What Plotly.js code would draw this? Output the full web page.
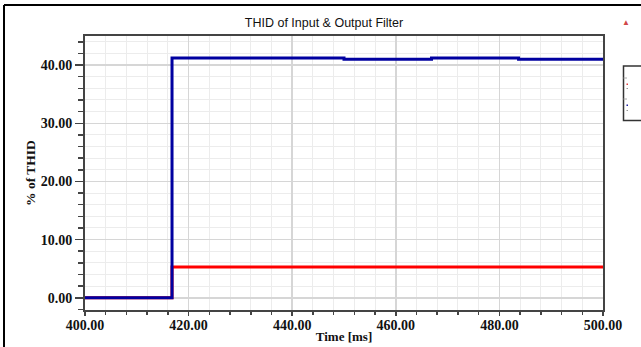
<!DOCTYPE html>
<html>
<head>
<meta charset="utf-8">
<script src="https://cdn.plot.ly/plotly-3.0.1.min.js"></script>
<style>html,body{margin:0;padding:0;background:#fff;}#chart{width:641px;height:347px;}</style>
</head>
<body>
<div id="chart"></div>
<script>
// Data
const inputTime = [400, 416.8, 450.0, 466.9, 483.7, 500];
const inputTHID = [0, 41.2, 41.0, 41.2, 41.0, 41.0];
const outputTime = [400, 416.8, 500];
const outputTHID = [0, 5.3, 5.3];
const chartTitle = "THID of Input & Output Filter";
const xTitle = "Time [ms]";
const yTitle = "% of THID";

const W = 641, H = 347;
const M = {l: 85, r: 38, t: 36, b: 37};
const pw = W - M.l - M.r, ph = H - M.t - M.b;
const px = x => (x - M.l) / pw;
const py = y => (H - M.b - y) / ph;

const serif = "Liberation Serif, Times New Roman, serif";
const tickFont = {family: serif, size: 14, color: "#111", weight: "bold"};

const traces = [
  {x: outputTime, y: outputTHID, type: "scatter", mode: "lines", line: {color: "#ff0000", width: 3, shape: "hv"}, name: "Output"},
  {x: inputTime, y: inputTHID, type: "scatter", mode: "lines", line: {color: "#0000a0", width: 3, shape: "hv"}, name: "Input"}
];

const layout = {
  width: W, height: H,
  margin: M,
  showlegend: false,
  paper_bgcolor: "#fff", plot_bgcolor: "#fff",
  title: {text: chartTitle, x: 324 / W, xanchor: "center", y: 1 - 23 / H, yanchor: "middle",
          font: {family: "Liberation Sans, Arial, sans-serif", size: 12.5, color: "#111"}},
  xaxis: {
    range: [400, 500], dtick: 20, tick0: 400, tickformat: ".2f",
    ticks: "outside", ticklen: 4, tickwidth: 1.5, tickcolor: "#444",
    ticklabelstandoff: -3,
    showline: true, linecolor: "#444", linewidth: 2, mirror: true,
    showgrid: true, gridcolor: "#d6d6d6", gridwidth: 1.5, zeroline: false,
    minor: {dtick: 4, ticks: "outside", ticklen: 3, tickcolor: "#444", showgrid: true, gridcolor: "#ececec", gridwidth: 1},
    tickfont: tickFont,
    title: {text: xTitle, standoff: 0, font: {family: serif, size: 13, color: "#111", weight: "bold"}}
  },
  yaxis: {
    range: [-2.1, 45], dtick: 10, tick0: 0, tickformat: ".2f",
    ticks: "outside", ticklen: 8, tickwidth: 1.5, tickcolor: "#444",
    showline: true, linecolor: "#444", linewidth: 2, mirror: true,
    showgrid: true, gridcolor: "#d6d6d6", gridwidth: 1.5, zeroline: false,
    minor: {dtick: 2, ticks: "outside", ticklen: 5, tickcolor: "#444", showgrid: true, gridcolor: "#ececec", gridwidth: 1},
    tickfont: tickFont,
    title: {text: yTitle, standoff: 2, font: {family: serif, size: 13.5, color: "#111", weight: "bold"}}
  },
  shapes: [
    // outer frame (top and left)
    {type: "line", xref: "paper", yref: "paper", x0: px(4), x1: px(645), y0: py(5), y1: py(5), line: {color: "#000", width: 2}},
    {type: "line", xref: "paper", yref: "paper", x0: px(4), x1: px(4), y0: py(5), y1: py(350), line: {color: "#000", width: 2}},
    // cut-off legend box
    {type: "rect", xref: "paper", yref: "paper", x0: px(623.5), x1: px(650), y0: py(66), y1: py(120.5), line: {color: "#333", width: 1.5}},
    {type: "line", xref: "paper", yref: "paper", x0: px(623.5), x1: px(627), y0: py(78), y1: py(78), line: {color: "#aaa", width: 1}},
    {type: "line", xref: "paper", yref: "paper", x0: px(623.5), x1: px(627), y0: py(99), y1: py(99), line: {color: "#aaa", width: 1}},
    {type: "rect", xref: "paper", yref: "paper", x0: px(626.5), x1: px(628), y0: py(83.5), y1: py(85), line: {width: 0}, fillcolor: "#e04040"},
    {type: "rect", xref: "paper", yref: "paper", x0: px(626.5), x1: px(628), y0: py(88), y1: py(89), line: {width: 0}, fillcolor: "#999"},
    {type: "rect", xref: "paper", yref: "paper", x0: px(626.5), x1: px(628), y0: py(104.5), y1: py(106), line: {width: 0}, fillcolor: "#2020a0"},
    {type: "rect", xref: "paper", yref: "paper", x0: px(626.5), x1: px(628), y0: py(110), y1: py(111), line: {width: 0}, fillcolor: "#999"}
  ],
  annotations: [
    {text: "▲", xref: "paper", yref: "paper", x: px(626), y: py(22), xanchor: "center", yanchor: "middle",
     showarrow: false, font: {size: 8, color: "#d04848"}}
  ]
};

Plotly.newPlot("chart", traces, layout, {displayModeBar: false, staticPlot: true});
</script>
</body>
</html>
